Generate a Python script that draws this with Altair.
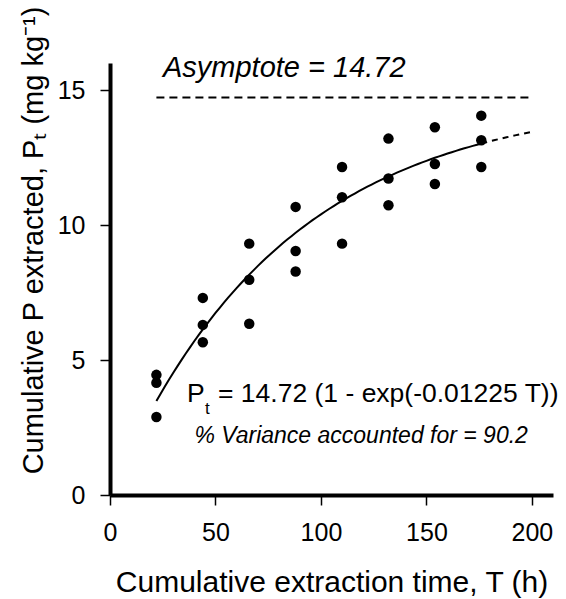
import math
import altair as alt
import pandas as pd

time_h = [22, 22, 22,
          44, 44, 44,
          66, 66, 66,
          88, 88, 88,
          110, 110, 110,
          132, 132, 132,
          154, 154, 154,
          176, 176, 176]
p_extracted = [4.45, 4.16, 2.89,
               7.30, 6.30, 5.66,
               9.31, 7.97, 6.34,
               10.67, 9.04, 8.28,
               12.15, 11.03, 9.31,
               13.20, 11.72, 10.73,
               13.62, 12.26, 11.52,
               14.05, 13.14, 12.15]

# Fitted model parameters stated on the chart
ASYMPTOTE = 14.72
RATE = 0.01225
fit_T_solid = list(range(22, 177, 2))
fit_T_dash = list(range(176, 201, 2))

x_ticks = [0, 50, 100, 150, 200]
y_ticks = [0, 5, 10, 15]

FONT = "Liberation Sans"

obs = pd.DataFrame({"T": time_h, "P": p_extracted})
fit_solid = pd.DataFrame({"T": fit_T_solid,
                          "P": [ASYMPTOTE * (1 - math.exp(-RATE * t)) for t in fit_T_solid]})
fit_dash = pd.DataFrame({"T": fit_T_dash,
                         "P": [ASYMPTOTE * (1 - math.exp(-RATE * t)) for t in fit_T_dash]})
one = pd.DataFrame({"k": [0]})

x_enc = alt.X("T:Q",
              scale=alt.Scale(domain=[0, 210], nice=False, zero=False),
              axis=alt.Axis(values=x_ticks, title="Cumulative extraction time, T (h)",
                            labelPadding=15, labelFlush=False,
                            titleY=96, titleBaseline="alphabetic"))
y_enc = alt.Y("P:Q",
              scale=alt.Scale(domain=[0, 16], nice=False),
              axis=alt.Axis(values=y_ticks,
                            title="Cumulative P extracted, P\u209c (mg kg\u207b\u00b9)",
                            labelPadding=15, labelFlush=False,
                            titleX=-68, titleY=177,
                            titleAlign="center", titleBaseline="alphabetic",
                            titleFontSize=29))

points = alt.Chart(obs).mark_circle(size=110, color="black", opacity=1).encode(x=x_enc, y=y_enc)

line_solid = alt.Chart(fit_solid).mark_line(color="black", strokeWidth=2).encode(
    x="T:Q", y="P:Q")
line_dash = alt.Chart(fit_dash).mark_line(color="black", strokeWidth=2,
                                          strokeDash=[6, 5]).encode(x="T:Q", y="P:Q")

asym = alt.Chart(one).mark_rule(color="black", strokeWidth=2, strokeDash=[8, 5]).encode(
    x=alt.datum(22), x2=alt.datum(200), y=alt.datum(ASYMPTOTE))

asym_text = alt.Chart(one).mark_text(
    text=f"Asymptote = {ASYMPTOTE}", align="left", baseline="alphabetic",
    font=FONT, fontSize=29, fontStyle="italic", color="black").encode(
    x=alt.datum(25.1), y=alt.datum(15.48))

eq_p = alt.Chart(one).mark_text(
    text="P", align="left", baseline="alphabetic", font=FONT, fontSize=26.5,
    color="black").encode(x=alt.datum(36.5), y=alt.datum(3.44))
eq_t = alt.Chart(one).mark_text(
    text="t", align="left", baseline="alphabetic", font=FONT, fontSize=17,
    dx=18, dy=12, color="black").encode(x=alt.datum(36.5), y=alt.datum(3.44))
eq_rest = alt.Chart(one).mark_text(
    text=f"= {ASYMPTOTE} (1 - exp(-{RATE} T))", align="left", baseline="alphabetic",
    font=FONT, fontSize=26.5, dx=31, color="black").encode(x=alt.datum(36.5), y=alt.datum(3.44))

var_text = alt.Chart(one).mark_text(
    text="% Variance accounted for = 90.2", align="left", baseline="alphabetic",
    font=FONT, fontSize=23, fontStyle="italic", color="black").encode(
    x=alt.datum(40.0), y=alt.datum(1.93))

chart = alt.layer(points, line_solid, line_dash, asym, asym_text,
                  eq_p, eq_t, eq_rest, var_text).properties(
    width=443, height=432,
    autosize=alt.AutoSizeParams(type="none"),
    padding={"left": 102, "top": 55, "right": 5, "bottom": 104},
    background="white",
).configure_view(stroke=None).configure_axis(
    grid=False,
    domainColor="black", domainWidth=4,
    tickColor="black", tickWidth=1.5, tickSize=10,
    labelFont=FONT, labelFontSize=25, labelColor="black",
    titleFont=FONT, titleFontSize=30, titleColor="black", titleFontWeight="normal",
)

chart.save("out.html", embed_options={"renderer": "svg", "actions": False})
